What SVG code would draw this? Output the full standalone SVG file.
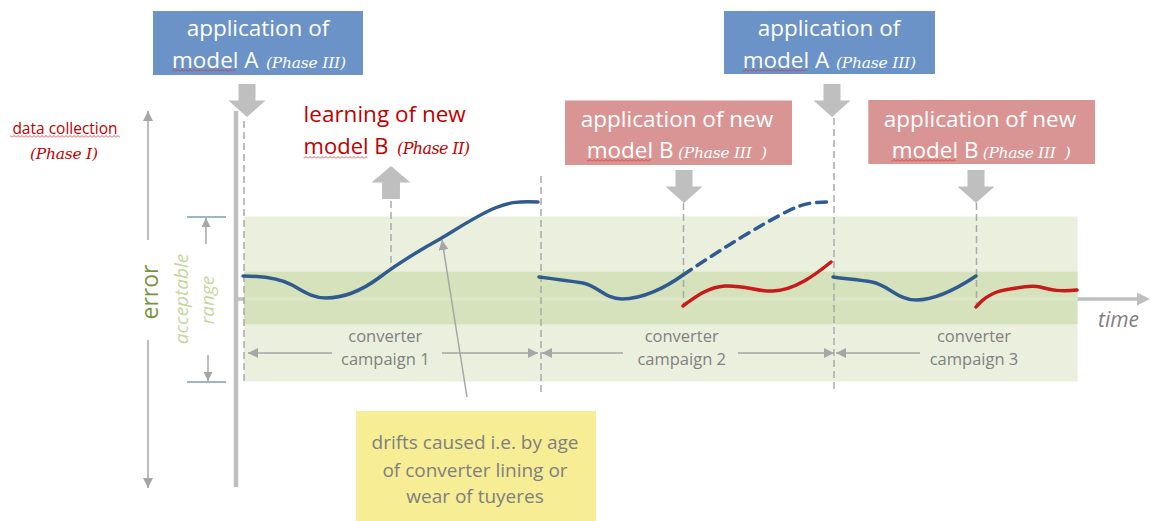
<svg xmlns="http://www.w3.org/2000/svg" width="1150" height="521" viewBox="0 0 1150 521">
  <defs>
    <style>
      .sans { font-family: "Open Sans", "Liberation Sans", sans-serif; }
      .ph { font-family: "DejaVu Serif", "Liberation Serif", serif; font-style: italic; }
      .boxtxt { fill: #ffffff; font-size: 22.5px; }
      .boxph { fill: #ffffff; font-size: 15.5px; }
      .red { fill: #c00000; }
      .gray { fill: #7f7f7f; }
      .dash { stroke: #a9a9a9; stroke-width: 1.5; stroke-dasharray: 7 4; fill: none; }
      .thin { stroke: #a6a6a6; stroke-width: 1.5; fill: none; }
      .tick { stroke: #7e9cb2; stroke-width: 1.5; }
      .block { fill: #bfbfbf; }
      .blue { stroke: #2f5b8e; stroke-width: 3.5; fill: none; stroke-linecap: round; }
      .redline { stroke: #c81a1a; stroke-width: 3.5; fill: none; stroke-linecap: round; }
      .camp { fill: #808080; font-size: 16.5px; }
    </style>
    <marker id="tip" markerUnits="userSpaceOnUse" viewBox="0 0 10 10" refX="10" refY="5" markerWidth="10" markerHeight="10" orient="auto-start-reverse">
      <path d="M0,0 L10,5 L0,10 Z" fill="#a6a6a6"/>
    </marker>
    <marker id="tipSmall" markerUnits="userSpaceOnUse" viewBox="0 0 10 10" refX="10" refY="5" markerWidth="9" markerHeight="9" orient="auto-start-reverse">
      <path d="M0,0 L10,5 L0,10 Z" fill="#a6a6a6"/>
    </marker>
    <pattern id="squig" patternUnits="userSpaceOnUse" x="0" y="0" width="4" height="3">
      <path d="M0,2.5 L2,0.5 L4,2.5" stroke="#e02828" stroke-width="0.8" fill="none"/>
    </pattern>
    <!-- block arrow pointing down, origin at top centre of shaft -->
    <path id="blockDown" d="M-8.5,0 H8.5 V16.5 H18.5 L0,33 L-18.5,16.5 H-8.5 Z"/>
  </defs>

  <rect width="1150" height="521" fill="#ffffff"/>

  <!-- tolerance bands -->
  <g id="bands">
    <rect x="244" y="216.5" width="833.5" height="165" fill="#ebf0de"/>
    <rect x="244" y="271.7" width="833.5" height="52.6" fill="#d6e2bc"/>
    <rect x="244" y="297.5" width="833.5" height="3" fill="#ffffff" opacity="0.18"/>
  </g>

  <!-- axes -->
  <g id="axes">
    <line x1="236" y1="111" x2="236" y2="487" stroke="#bfbfbf" stroke-width="4.5"/>
    <line x1="236" y1="299" x2="244" y2="299" stroke="#bfbfbf" stroke-width="3.5"/>
    <line x1="1077.5" y1="299" x2="1139" y2="299" stroke="#bfbfbf" stroke-width="3.5"/>
    <polygon points="1137,292.5 1150,299 1137,305.5" fill="#bfbfbf"/>
  </g>

  <g id="connectors">
    <!-- phase boundaries -->
    <line class="dash" x1="244" y1="121" x2="244" y2="382"/>
    <line class="dash" x1="391" y1="201" x2="391" y2="268"/>
    <line class="dash" x1="541" y1="176" x2="541" y2="392"/>
    <line class="dash" x1="683.5" y1="203" x2="683.5" y2="306"/>
    <line class="dash" x1="834" y1="118" x2="834" y2="390"/>
    <line class="dash" x1="976.5" y1="203" x2="976.5" y2="307"/>

    <!-- error axis -->
    <line class="thin" x1="148" y1="240" x2="148" y2="111" marker-end="url(#tip)"/>
    <line class="thin" x1="148" y1="340" x2="148" y2="488" marker-end="url(#tip)"/>

    <!-- acceptable range marker -->
    <line class="tick" x1="187" y1="217" x2="226" y2="217"/>
    <line class="tick" x1="187" y1="382" x2="226" y2="382"/>
    <line class="thin" x1="206" y1="244" x2="206" y2="218" marker-end="url(#tipSmall)"/>
    <line class="thin" x1="208" y1="355" x2="208" y2="381" marker-end="url(#tipSmall)"/>

    <!-- campaign spans -->
    <line class="thin" x1="332" y1="353" x2="248" y2="353" marker-end="url(#tip)"/>
    <line class="thin" x1="442" y1="353" x2="538" y2="353" marker-end="url(#tip)"/>
    <line class="thin" x1="623" y1="353" x2="542" y2="353" marker-end="url(#tip)"/>
    <line class="thin" x1="738" y1="353" x2="834" y2="353" marker-end="url(#tip)"/>
    <line class="thin" x1="920" y1="353" x2="836" y2="353" marker-end="url(#tip)"/>

    <!-- drift pointer -->
    <line class="thin" x1="467" y1="397" x2="442" y2="240" stroke-width="1.2" marker-end="url(#tip)"/>

    <!-- phase block arrows -->
    <use href="#blockDown" class="block" transform="translate(247,84)"/>
    <use href="#blockDown" class="block" transform="translate(391,199) scale(1.05,-1)"/>
    <use href="#blockDown" class="block" transform="translate(684,170)"/>
    <use href="#blockDown" class="block" transform="translate(832,84)"/>
    <use href="#blockDown" class="block" transform="translate(976,170)"/>
  </g>

  <!-- error curves -->
  <g id="curves">
    <path class="blue" d="M243,276 C266,276 281,279 292,285 C306,293 313,298 326,298 C346,298 364,289 380,277 C400,262 420,250 440,239 C460,227 478,215 495,208 C510,202 520,201 538,202"/>
    <path class="blue" d="M539,277 C555,279 570,281 583,283 C598,286 605,299 622,299 C642,299 665,288 683,275"/>
    <path class="blue" stroke-linecap="butt" stroke-dasharray="10 7" d="M683,275 C720,250 760,225 790,210 C805,203 815,202 827,202"/>
    <path class="redline" d="M683,306 C695,297 708,287 725,286 C745,285 758,292 773,291 C795,290 815,275 831,262"/>
    <path class="blue" d="M833,277 C848,279 860,280 872,282 C888,285 898,300 916,300 C936,300 958,288 976,276"/>
    <path class="redline" d="M976,307 C985,296 995,291 1010,289 C1022,287 1030,285 1040,287 C1052,290 1060,292 1077,290"/>
  </g>

  <!-- model A, first application -->
  <g id="apply-a-1">
    <rect x="153" y="11" width="210" height="64" fill="#6b93c8"/>
    <text class="sans boxtxt" x="258" y="36" text-anchor="middle">application of</text>
    <text class="sans boxtxt" x="172" y="68">model A</text>
    <text class="ph boxph" x="266" y="68" textLength="80">(Phase III)</text>
    <rect x="172" y="69" width="64" height="3" fill="url(#squig)"/>
  </g>

  <!-- model A, second application -->
  <g id="apply-a-2">
    <rect x="724" y="11" width="211" height="63" fill="#6b93c8"/>
    <text class="sans boxtxt" x="829" y="36" text-anchor="middle">application of</text>
    <text class="sans boxtxt" x="742.7" y="68">model A</text>
    <text class="ph boxph" x="836" y="68" textLength="80">(Phase III)</text>
    <rect x="742.7" y="69" width="64" height="3" fill="url(#squig)"/>
  </g>

  <!-- model B, first application -->
  <g id="apply-b-1">
    <rect x="565" y="100.5" width="227" height="64.5" fill="#d99594"/>
    <text class="sans boxtxt" x="677" y="126.7" text-anchor="middle">application of new</text>
    <text class="sans boxtxt" x="586.7" y="158">model B</text>
    <text class="ph boxph" x="678" y="158" textLength="89">(Phase III&#160;&#160;)</text>
    <rect x="586.7" y="159" width="64" height="3" fill="url(#squig)"/>
  </g>

  <!-- model B, second application -->
  <g id="apply-b-2">
    <rect x="868.3" y="100" width="226.7" height="64" fill="#d99594"/>
    <text class="sans boxtxt" x="980" y="126.7" text-anchor="middle">application of new</text>
    <text class="sans boxtxt" x="891.7" y="158">model B</text>
    <text class="ph boxph" x="982.7" y="158" textLength="88">(Phase III&#160;&#160;)</text>
    <rect x="891.7" y="159" width="64" height="3" fill="url(#squig)"/>
  </g>

  <!-- model B learning -->
  <g id="learning-b">
    <text class="sans red" x="303.6" y="121.7" font-size="22.5">learning of new</text>
    <text class="sans red" x="303.6" y="154" font-size="22">model B</text>
    <text class="ph red" x="397" y="154" font-size="16" textLength="73">(Phase II)</text>
    <rect x="303.6" y="156" width="64" height="3" fill="url(#squig)"/>
  </g>

  <!-- data collection -->
  <g id="data-collection">
    <text class="sans red" x="65" y="134" font-size="15.5" text-anchor="middle">data collection</text>
    <rect x="10" y="135" width="110" height="3" fill="url(#squig)"/>
    <text class="ph red" x="64" y="159" font-size="15.5" text-anchor="middle" textLength="68">(Phase I)</text>
  </g>

  <!-- axis labels -->
  <g id="error-label">
    <text class="sans" x="158" y="292" font-size="23" fill="#77933c" text-anchor="middle" transform="rotate(-90 158 292)">error</text>
  </g>
  <g id="range-label" class="sans" font-style="italic" font-size="19" fill="#c4d79b" text-anchor="middle">
    <text x="188" y="299" transform="rotate(-90 188 299)">acceptable</text>
    <text x="214" y="300" transform="rotate(-90 214 300)">range</text>
  </g>
  <g id="time-label">
    <text class="sans gray" x="1098" y="326.7" font-size="21" font-style="italic">time</text>
  </g>

  <!-- campaign labels -->
  <g id="campaign-1" class="sans camp" text-anchor="middle">
    <text x="385.3" y="342">converter</text>
    <text x="385.3" y="365">campaign 1</text>
  </g>
  <g id="campaign-2" class="sans camp" text-anchor="middle">
    <text x="681.7" y="342">converter</text>
    <text x="681.7" y="365">campaign 2</text>
  </g>
  <g id="campaign-3" class="sans camp" text-anchor="middle">
    <text x="974" y="342">converter</text>
    <text x="974" y="365">campaign 3</text>
  </g>

  <!-- drift note -->
  <g id="drift-note">
    <rect x="356" y="411" width="240" height="110" fill="#f7ed95"/>
    <g class="sans gray" font-size="19" text-anchor="middle">
      <text x="475" y="449.3">drifts caused i.e. by age</text>
      <text x="475" y="476.7">of converter lining or</text>
      <text x="475" y="503.3">wear of tuyeres</text>
    </g>
  </g>
</svg>
